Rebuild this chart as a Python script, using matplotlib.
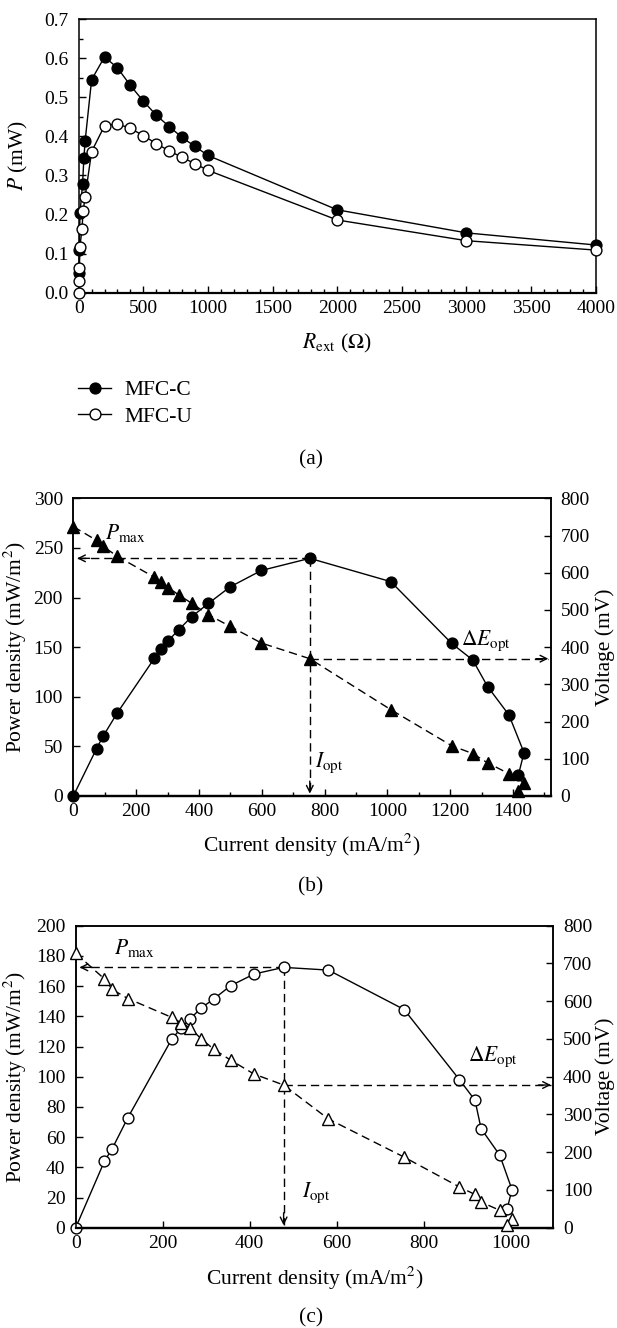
import numpy as np
import matplotlib
matplotlib.use("Agg")
import matplotlib.pyplot as plt
from matplotlib.ticker import MultipleLocator, FormatStrFormatter

plt.rcParams["font.family"] = ["Liberation Serif", "DejaVu Serif"]
plt.rcParams["mathtext.fontset"] = "stix"

# =========================================================
# DATA
# =========================================================
# (a) power vs external resistance
r_c = [1, 5, 10, 30, 40, 50, 100, 200, 300, 400, 500, 600, 700, 800, 900, 1000, 2000, 3000, 4000]
p_c = [0.051, 0.108, 0.204, 0.278, 0.344, 0.389, 0.545, 0.603, 0.575, 0.530, 0.490, 0.454,
       0.425, 0.397, 0.374, 0.351, 0.212, 0.153, 0.122]
r_u = [0, 1, 5, 10, 25, 35, 50, 100, 200, 300, 400, 500, 600, 700, 800, 900, 1000, 2000, 3000, 4000]
p_u = [0.0, 0.030, 0.062, 0.118, 0.163, 0.210, 0.246, 0.361, 0.427, 0.432, 0.420, 0.402,
       0.381, 0.363, 0.346, 0.330, 0.313, 0.186, 0.133, 0.109]

# (b) MFC-C polarization (current turns back at the end)
i_b = [0, 74, 95, 140, 258, 278, 303, 336, 377, 430, 499, 599, 753, 1011, 1205, 1272, 1319, 1387, 1435, 1417]
pd_b = [0, 47.7, 60.3, 83.7, 138.7, 148.3, 156.7, 167.7, 180.7, 194, 210.7, 227.3, 239.5,
        216, 153.7, 137, 110.3, 81.7, 43.7, 21]
v_b = [724, 687, 671, 644, 588, 575, 560, 540, 518, 487, 456, 411, 369, 232, 135, 114, 89, 60, 36, 13]

# (c) MFC-U polarization
i_c = [0, 66, 84, 120, 221, 242, 262, 288, 317, 356, 410, 478, 581, 755, 882, 918, 932, 975, 1003, 992]
pd_c = [0, 44, 52.4, 72.9, 125, 132, 138, 145.4, 151.4, 160.2, 168, 172.4, 170.6, 144.5,
        98.1, 84.4, 65.6, 48, 25.2, 12.6]
v_c = [727, 659, 631, 607, 557, 543, 530, 501, 473, 444, 407, 378, 288, 187, 108, 88, 68, 46, 24, 6]

# =========================================================
# LAYOUT (pixels)
# =========================================================
W, H = 617, 1328
fig = plt.figure(figsize=(W / 100, H / 100), dpi=100)


def px_axes(l, t, r, b):
    return fig.add_axes([l / W, 1 - b / H, (r - l) / W, (b - t) / H])


def ftext(x, y, s, **kw):
    kw.setdefault("ha", "center")
    kw.setdefault("va", "center")
    fig.text(x / W, 1 - y / H, s, **kw)


TICK_FS = 14
LAB_FS = 15.5
MS = 7.8


def style_axes(ax, xpad=5, ypad=7):
    for sp in ax.spines.values():
        sp.set_linewidth(1.1)
    ax.spines["bottom"].set_linewidth(1.6)
    ax.tick_params(which="major", direction="in", length=5, width=1, labelsize=TICK_FS)
    ax.tick_params(which="minor", direction="in", length=3, width=1)
    ax.tick_params(axis="x", pad=xpad)
    ax.tick_params(axis="y", pad=ypad)


def dashed_arrow(ax, start, tip, head_off):
    ax.plot([start[0], tip[0]], [start[1], tip[1]], color="black", lw=1,
            dashes=(6, 3.5), zorder=1, clip_on=False)
    ax.annotate("", xy=tip, xytext=head_off, textcoords="offset points",
                arrowprops=dict(arrowstyle="->", lw=1, color="black",
                                shrinkA=0, shrinkB=0, mutation_scale=12),
                annotation_clip=False)


# =========================================================
# (a)
# =========================================================
ax_a = px_axes(78.7, 19, 595.7, 292.7)
ax_a.plot(r_c, p_c, "-o", color="black", lw=1, ms=MS, mfc="black", mec="black",
          clip_on=False, label="MFC-C", zorder=3)
ax_a.plot(r_u, p_u, "-o", color="black", lw=1, ms=MS, mfc="white", mec="black",
          mew=1, clip_on=False, label="MFC-U", zorder=4)
ax_a.set_xlim(0, 4000)
ax_a.set_ylim(0, 0.7)
ax_a.xaxis.set_major_locator(MultipleLocator(500))
ax_a.xaxis.set_minor_locator(MultipleLocator(100))
ax_a.yaxis.set_major_locator(MultipleLocator(0.1))
ax_a.yaxis.set_minor_locator(MultipleLocator(0.05))
ax_a.yaxis.set_major_formatter(FormatStrFormatter("%.1f"))
style_axes(ax_a, xpad=5, ypad=7.5)

ftext(18.5, 156, r"$P$ (mW)", rotation=90, fontsize=LAB_FS)
ftext(337, 343, r"$R_{\rm ext}$ ($\Omega$)", fontsize=LAB_FS)

fig.legend(loc="upper left", bbox_to_anchor=(78 / W, 1 - 380 / H), frameon=False,
           fontsize=LAB_FS, handlelength=1.55, handletextpad=0.6, labelspacing=0.3,
           borderaxespad=0, borderpad=0)
ftext(311, 460, "(a)", fontsize=LAB_FS)


# =========================================================
# (b) and (c)
# =========================================================
def polar_panel(box, cur, pdens, volt, filled, xmax, pmax_axis, pstep, minor_x,
                pmax_lab, iopt_lab, de_lab, xlab_y, letter_y, letter):
    ax = px_axes(*box)
    axv = ax.twinx()
    fc = "black" if filled else "white"
    ax.plot(cur, pdens, "-o", color="black", lw=1, ms=MS, mfc=fc, mec="black",
            mew=1, clip_on=False, zorder=3)
    axv.plot(cur, volt, "^", ls=(0, (6, 3.5)), color="black", lw=1, ms=MS + 0.5,
             mfc=fc, mec="black", mew=1, clip_on=False, zorder=3)
    ax.set_xlim(0, xmax)
    ax.set_ylim(0, pmax_axis)
    axv.set_ylim(0, 800)
    ax.xaxis.set_major_locator(MultipleLocator(200))
    if minor_x:
        ax.xaxis.set_minor_locator(MultipleLocator(100))
    ax.yaxis.set_major_locator(MultipleLocator(pstep))
    axv.yaxis.set_major_locator(MultipleLocator(100))
    style_axes(ax, xpad=5, ypad=7.5)
    style_axes(axv, xpad=5, ypad=7)
    ax.tick_params(right=False, top=False)

    k = int(np.argmax(pdens))
    x_opt, p_opt, v_opt = cur[k], pdens[k], volt[k]
    dashed_arrow(ax, (x_opt, p_opt), (xmax * 0.008, p_opt), (9, 0))
    dashed_arrow(ax, (x_opt, p_opt), (x_opt, pmax_axis * 0.008), (0, 9))
    dashed_arrow(axv, (x_opt, v_opt), (xmax * 0.995, v_opt), (-9, 0))

    ax.text(pmax_lab[0], pmax_lab[1], r"$P_{\rm max}$", fontsize=LAB_FS, va="center")
    ax.text(iopt_lab[0], iopt_lab[1], r"$I_{\rm opt}$", fontsize=LAB_FS, va="center")
    ax.text(de_lab[0], de_lab[1], r"$\Delta E_{\rm opt}$", fontsize=LAB_FS, va="center")

    l, t, r, b = box
    ftext(15.5, (t + b) / 2, r"Power density (mW/m$^2$)", rotation=90, fontsize=LAB_FS)
    ftext(605, (t + b) / 2, "Voltage (mV)", rotation=90, fontsize=LAB_FS)
    ftext((l + r) / 2, xlab_y, r"Current density (mA/m$^2$)", fontsize=LAB_FS)
    ftext(311, letter_y, letter, fontsize=LAB_FS)


polar_panel((73.3, 498.3, 550.7, 796), i_b, pd_b, v_b, True, 1520, 300, 50, True,
            (100, 265), (770, 34), (1235, 156), 845, 887, "(b)")
polar_panel((75.7, 925.7, 553.3, 1227.7), i_c, pd_c, v_c, False, 1098, 200, 20, False,
            (88, 185), (520, 23), (903, 113), 1278, 1318, "(c)")

fig.savefig("out.png", dpi=100)
